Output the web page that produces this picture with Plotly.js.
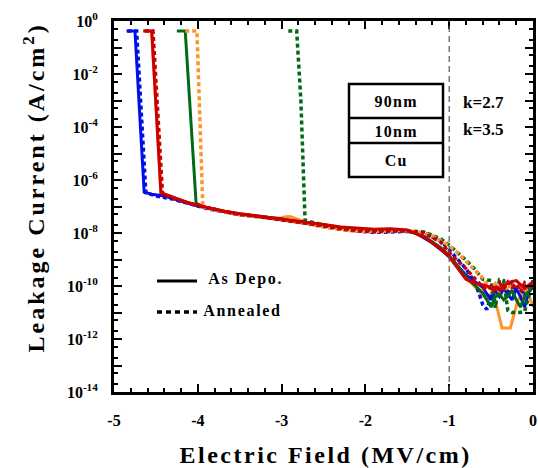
<!DOCTYPE html>
<html>
<head>
<meta charset="utf-8">
<script src="https://cdn.plot.ly/plotly-3.0.1.min.js"></script>
<style>
html,body{margin:0;padding:0;background:#fff;}
#chart{width:538px;height:468px;}
.annotation[data-index="0"] text, .annotation[data-index="1"] text, .annotation[data-index="2"] text { letter-spacing: 1.3px; }
.annotation[data-index="5"] text, .annotation[data-index="6"] text { letter-spacing: 1.7px; }
.annotation[data-index="7"] text { letter-spacing: 2.5px; }
.annotation[data-index="8"] text { letter-spacing: 3px; }
</style>
</head>
<body>
<div id="chart"></div>
<script>
// ---- Data (Electric field in MV/cm, leakage current in A/cm^2) ----
const fieldBlueDepo = [-4.85, -4.75, -4.64, -4.55, -4.4, -4.2, -4.0, -3.8, -3.6, -3.4, -3.2, -3.0, -2.8, -2.6, -2.4, -2.2, -2.0, -1.8, -1.6, -1.4, -1.2, -1.0, -0.9, -0.8, -0.7, -0.6, -0.55, -0.5, -0.45, -0.4, -0.35, -0.3, -0.25, -0.2, -0.15, -0.1, -0.05, 0];
const currentBlueDepo = [0.42, 0.42, 3.5e-7, 2.9e-7, 2.5e-7, 1.6e-7, 1.05e-7, 8e-8, 5.6e-8, 4.8e-8, 4e-8, 3.4e-8, 2.6e-8, 2e-8, 1.7e-8, 1.4e-8, 1.3e-8, 1.3e-8, 1.3e-8, 1e-8, 4.2e-9, 1.3e-9, 6e-10, 2.6e-10, 1.5e-10, 9e-11, 5e-11, 3e-11, 7e-11, 4e-11, 8e-11, 5e-11, 3e-11, 8e-11, 4e-11, 1.6e-11, 6e-11, 9e-11];

const fieldBlueAnn = [-4.84, -4.73, -4.62, -4.5, -4.3, -4.1, -3.9, -3.7, -3.5, -3.3, -3.1, -2.9, -2.7, -2.5, -2.3, -2.1, -1.9, -1.7, -1.5, -1.3, -1.1, -1.0, -0.9, -0.8, -0.75, -0.7, -0.65, -0.6, -0.55, -0.5, -0.45, -0.4, -0.35, -0.3, -0.25, -0.2, -0.15, -0.1, -0.05, 0];
const currentBlueAnn = [0.42, 0.42, 3.3e-7, 2.5e-7, 1.9e-7, 1.25e-7, 8.5e-8, 6.3e-8, 5e-8, 4.3e-8, 3.6e-8, 3e-8, 2.4e-8, 1.9e-8, 1.5e-8, 1.2e-8, 1.05e-8, 1.1e-8, 1.15e-8, 1e-8, 5e-9, 2.3e-9, 1e-9, 4.5e-10, 2.6e-10, 1.5e-10, 6e-11, 2e-11, 1.3e-11, 4e-11, 9e-11, 5e-11, 1e-10, 6e-11, 1.2e-10, 7e-11, 1e-10, 4e-11, 1.2e-10, 8e-11];

const fieldRedDepo = [-4.65, -4.55, -4.44, -4.3, -4.1, -3.9, -3.7, -3.5, -3.3, -3.1, -2.9, -2.7, -2.5, -2.3, -2.1, -1.9, -1.7, -1.5, -1.3, -1.1, -1.0, -0.9, -0.8, -0.7, -0.6, -0.55, -0.5, -0.45, -0.4, -0.35, -0.3, -0.25, -0.2, -0.15, -0.1, -0.05, 0];
const currentRedDepo = [0.42, 0.42, 3.3e-7, 2.3e-7, 1.35e-7, 9.5e-8, 6.8e-8, 5.3e-8, 4.4e-8, 3.8e-8, 3.2e-8, 2.5e-8, 2.1e-8, 1.7e-8, 1.5e-8, 1.4e-8, 1.45e-8, 1.3e-8, 7e-9, 2.5e-9, 1.25e-9, 4.5e-10, 1.8e-10, 1.3e-10, 1.1e-10, 1e-10, 8e-11, 9e-11, 7e-11, 1e-10, 1.3e-10, 1.5e-10, 1.6e-10, 1.1e-10, 8e-11, 1.1e-10, 1.4e-10];

const fieldRedAnn = [-4.63, -4.535, -4.42, -4.3, -4.1, -3.9, -3.7, -3.5, -3.3, -3.1, -2.9, -2.7, -2.5, -2.3, -2.1, -1.9, -1.7, -1.5, -1.3, -1.1, -1.0, -0.9, -0.8, -0.7, -0.6, -0.55, -0.5, -0.45, -0.4, -0.35, -0.3, -0.25, -0.2, -0.15, -0.1, -0.05, 0];
const currentRedAnn = [0.42, 0.42, 2.8e-7, 2.1e-7, 1.3e-7, 9e-8, 6.5e-8, 5e-8, 4.2e-8, 3.5e-8, 2.9e-8, 2.3e-8, 1.8e-8, 1.4e-8, 1.2e-8, 1.1e-8, 1.15e-8, 1.2e-8, 1e-8, 4.5e-9, 1.8e-9, 9e-10, 4.5e-10, 2e-10, 9e-11, 7e-11, 1e-10, 6e-11, 1.3e-10, 8e-11, 1.4e-10, 9e-11, 1.2e-10, 6e-11, 1.3e-10, 9e-11, 1.2e-10];

const fieldGreenDepo = [-4.25, -4.15, -4.02, -3.9, -3.7, -3.5, -3.3, -3.1, -2.9, -2.7, -2.5, -2.3, -2.1, -1.9, -1.7, -1.5, -1.3, -1.1, -1.0, -0.9, -0.8, -0.7, -0.6, -0.55, -0.5, -0.45, -0.4, -0.35, -0.3, -0.25, -0.2, -0.15, -0.1, -0.05, 0];
const currentGreenDepo = [0.42, 0.42, 1.3e-7, 9e-8, 6.5e-8, 5e-8, 4.2e-8, 3.5e-8, 3e-8, 2.4e-8, 1.9e-8, 1.55e-8, 1.35e-8, 1.25e-8, 1.3e-8, 1.25e-8, 7.5e-9, 2.8e-9, 1.4e-9, 5.5e-10, 2.2e-10, 1.1e-10, 5.5e-11, 3e-11, 1.6e-11, 4e-11, 5e-11, 3e-11, 4e-11, 7e-11, 3e-11, 1.6e-11, 4e-11, 7e-11, 1.3e-10];

const fieldGreenAnn = [-2.92, -2.82, -2.77, -2.72, -2.5, -2.3, -2.1, -1.9, -1.7, -1.5, -1.3, -1.1, -1.0, -0.9, -0.8, -0.7, -0.6, -0.55, -0.5, -0.45, -0.4, -0.35, -0.3, -0.25, -0.2, -0.15, -0.1, -0.05, 0];
const currentGreenAnn = [0.42, 0.42, 1e-3, 3e-8, 2e-8, 1.6e-8, 1.3e-8, 1.15e-8, 1.15e-8, 1.2e-8, 1.1e-8, 6e-9, 3.5e-9, 1.9e-9, 9.5e-10, 4.5e-10, 1.8e-10, 1.7e-10, 1.6e-10, 1.5e-11, 1.7e-10, 1.6e-10, 1.2e-11, 1e-11, 1e-11, 1e-11, 1.1e-11, 4e-11, 1.7e-10];

const fieldOrangeDepo = [-4.65, -4.55, -4.44, -4.3, -4.1, -3.9, -3.7, -3.5, -3.3, -3.1, -3.0, -2.95, -2.9, -2.85, -2.8, -2.7, -2.5, -2.3, -2.1, -1.9, -1.7, -1.5, -1.3, -1.1, -1.0, -0.9, -0.8, -0.7, -0.63, -0.54, -0.48, -0.37, -0.27, -0.18, -0.07, 0];
const currentOrangeDepo = [0.42, 0.42, 3.2e-7, 2.2e-7, 1.35e-7, 9.5e-8, 6.8e-8, 5.3e-8, 4.4e-8, 3.7e-8, 3.7e-8, 4.1e-8, 4.2e-8, 3.7e-8, 3.1e-8, 2.5e-8, 2.1e-8, 1.7e-8, 1.5e-8, 1.35e-8, 1.4e-8, 1.25e-8, 7e-9, 2.6e-9, 1.3e-9, 5e-10, 2e-10, 1e-10, 5.5e-11, 3e-11, 7e-11, 2.6e-12, 2.6e-12, 3e-11, 7e-11, 1.6e-11];

const fieldOrangeAnn = [-4.15, -4.01, -3.94, -3.8, -3.6, -3.4, -3.2, -3.0, -2.8, -2.6, -2.4, -2.2, -2.0, -1.8, -1.6, -1.4, -1.2, -1.0, -0.9, -0.8, -0.7, -0.6, -0.55, -0.5, -0.45, -0.4, -0.35, -0.3, -0.25, -0.2, -0.15, -0.1, -0.05, 0];
const currentOrangeAnn = [0.42, 0.42, 9.6e-8, 7.5e-8, 5.5e-8, 4.5e-8, 3.8e-8, 3.2e-8, 2.5e-8, 1.9e-8, 1.5e-8, 1.25e-8, 1.15e-8, 1.15e-8, 1.25e-8, 1.15e-8, 8e-9, 3.3e-9, 1.8e-9, 8.5e-10, 4e-10, 2e-10, 1.2e-10, 8e-11, 1.2e-10, 6e-11, 1.1e-10, 7e-11, 1.3e-10, 8e-11, 1.1e-10, 6e-11, 1e-10, 1.2e-10];

// Tick labels
const fieldTickVals = [-5, -4, -3, -2, -1, 0];
const fieldTickText = ["-5", "-4", "-3", "-2", "-1", "0"];
const currentTickExps = [0, -1, -2, -3, -4, -5, -6, -7, -8, -9, -10, -11, -12, -13, -14];

// ---- Styles ----
const BLUE = '#0010e6', RED = '#cc0000', GREEN = '#006a16', ORANGE = '#ff9326';
const DOT = '4px,3px';
function tr(x, y, color, dotted, name) {
  return {x: x, y: y, type: 'scatter', mode: 'lines', name: name, showlegend: false,
    line: {color: color, width: dotted ? 3.5 : 3, dash: dotted ? DOT : 'solid'}};
}
const traces = [
  tr(fieldOrangeDepo, currentOrangeDepo, ORANGE, false, 'Orange As Depo.'),
  tr(fieldBlueDepo, currentBlueDepo, BLUE, false, 'Blue As Depo.'),
  tr(fieldBlueAnn, currentBlueAnn, BLUE, true, 'Blue Annealed'),
  tr(fieldGreenDepo, currentGreenDepo, GREEN, false, 'Green As Depo.'),
  tr(fieldGreenAnn, currentGreenAnn, GREEN, true, 'Green Annealed'),
  tr(fieldOrangeAnn, currentOrangeAnn, ORANGE, true, 'Orange Annealed'),
  tr(fieldRedAnn, currentRedAnn, RED, true, 'Red Annealed'),
  tr(fieldRedDepo, currentRedDepo, RED, false, 'Red As Depo.')
];

const yTickVals = currentTickExps.map(e => Math.pow(10, e));
const yTickText = currentTickExps.map(e => (e % 2 === 0) ? '10<sup>' + (e === 0 ? '0' : '-' + Math.abs(e)) + '</sup>' : '');
const yMinor = [];
currentTickExps.forEach(e => { if (e < 0) { yMinor.push(2 * Math.pow(10, e)); yMinor.push(5 * Math.pow(10, e)); } });

const FONT = 'Liberation Serif, Times New Roman, serif';
const tickFont = {family: FONT, size: 16, color: 'black', weight: 'bold'};

// paper-coordinate helpers for decorative layout (plot area px: x 114..533, y 21..392)
const PX0 = 114, PX1 = 533, PY0 = 21, PY1 = 392;
const px = v => (v - PX0) / (PX1 - PX0);
const py = v => (PY1 - v) / (PY1 - PY0);
const bold = (s) => ({family: FONT, size: s, color: 'black', weight: 'bold'});

const layout = {
  width: 538, height: 468,
  margin: {l: PX0, r: 538 - PX1, t: PY0, b: 468 - PY1, pad: 0},
  paper_bgcolor: 'white', plot_bgcolor: 'white',
  showlegend: false,
  xaxis: {
    range: [-5, 0], tickmode: 'array', tickvals: fieldTickVals, ticktext: fieldTickText,
    ticks: 'inside', ticklen: 8, tickwidth: 2, tickcolor: 'black',
    showline: true, linewidth: 3, linecolor: 'black', mirror: 'ticks',
    showgrid: false, zeroline: false, tickfont: tickFont, ticklabelstandoff: 12,
    minor: {tickmode: 'linear', tick0: 0, dtick: 0.2, ticks: 'inside', ticklen: 4, tickwidth: 2, tickcolor: 'black', showgrid: false}
  },
  yaxis: {
    type: 'log', range: [-14, 0], tickmode: 'array', tickvals: yTickVals, ticktext: yTickText,
    ticks: 'inside', ticklen: 8, tickwidth: 2, tickcolor: 'black',
    showline: true, linewidth: 3, linecolor: 'black', mirror: 'ticks',
    showgrid: false, zeroline: false, tickfont: tickFont, ticklabelstandoff: 10,
    minor: {tickmode: 'array', tickvals: yMinor, ticks: 'inside', ticklen: 4, tickwidth: 2, tickcolor: 'black', showgrid: false}
  },
  shapes: [
    {type: 'line', xref: 'x', yref: 'paper', x0: -1, x1: -1, y0: 0, y1: 1, line: {color: '#555', width: 1.2, dash: '6px,4px'}},
    {type: 'rect', xref: 'paper', yref: 'paper', x0: px(349), x1: px(443), y0: py(177), y1: py(84), line: {color: 'black', width: 2.5}},
    {type: 'line', xref: 'paper', yref: 'paper', x0: px(349), x1: px(443), y0: py(118), y1: py(118), line: {color: 'black', width: 2.5}},
    {type: 'line', xref: 'paper', yref: 'paper', x0: px(349), x1: px(443), y0: py(143), y1: py(143), line: {color: 'black', width: 2.5}},
    {type: 'line', xref: 'paper', yref: 'paper', x0: px(157), x1: px(197), y0: py(281), y1: py(281), line: {color: 'black', width: 3}},
    {type: 'line', xref: 'paper', yref: 'paper', x0: px(157), x1: px(197), y0: py(312), y1: py(312), line: {color: 'black', width: 3.5, dash: '5px,4px'}}
  ],
  annotations: [
    {xref: 'paper', yref: 'paper', x: px(396), y: py(101), text: '90nm', showarrow: false, xanchor: 'center', yanchor: 'middle', font: bold(16)},
    {xref: 'paper', yref: 'paper', x: px(396), y: py(131), text: '10nm', showarrow: false, xanchor: 'center', yanchor: 'middle', font: bold(16)},
    {xref: 'paper', yref: 'paper', x: px(396), y: py(160), text: 'Cu', showarrow: false, xanchor: 'center', yanchor: 'middle', font: bold(16)},
    {xref: 'paper', yref: 'paper', x: px(461), y: py(102), text: 'k=2.7', showarrow: false, xanchor: 'left', yanchor: 'middle', font: bold(17)},
    {xref: 'paper', yref: 'paper', x: px(461), y: py(129), text: 'k=3.5', showarrow: false, xanchor: 'left', yanchor: 'middle', font: bold(17)},
    {xref: 'paper', yref: 'paper', x: px(213), y: py(279), text: 'As Depo.', showarrow: false, xanchor: 'left', yanchor: 'middle', font: bold(16)},
    {xref: 'paper', yref: 'paper', x: px(208), y: py(310), text: 'Annealed', showarrow: false, xanchor: 'left', yanchor: 'middle', font: bold(16)},
    {xref: 'paper', yref: 'paper', x: px(325), y: py(455), text: 'Electric Field (MV/cm)', showarrow: false, xanchor: 'center', yanchor: 'middle', font: bold(24)},
    {xref: 'paper', yref: 'paper', x: px(34), y: py(188), text: 'Leakage Current (A/cm<sup>2</sup>)', textangle: -90, showarrow: false, xanchor: 'center', yanchor: 'middle', font: bold(24)}
  ]
};

Plotly.newPlot('chart', traces, layout, {displayModeBar: false, staticPlot: true});
</script>
</body>
</html>
